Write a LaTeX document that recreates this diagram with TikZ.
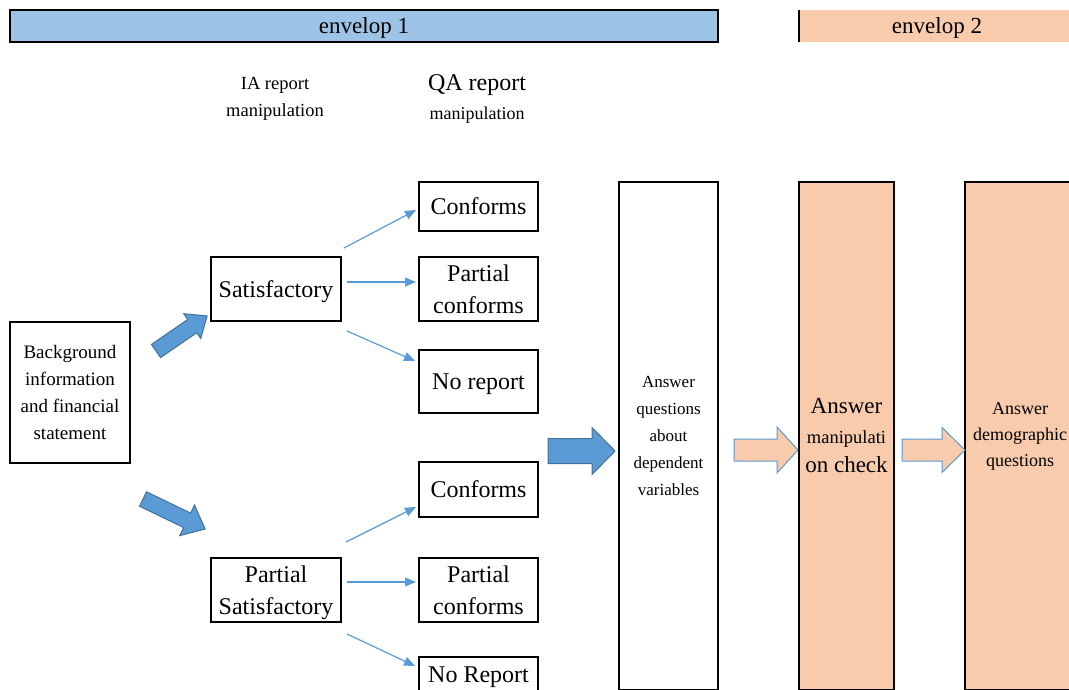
\documentclass[tikz,border=0pt]{standalone}
\usepackage{fontspec}
\setmainfont{Liberation Serif}
\usetikzlibrary{arrows.meta,calc}
\definecolor{barblue}{HTML}{9DC3E6}
\definecolor{peach}{HTML}{F8CBAD}
\definecolor{arrowblue}{HTML}{5B9BD5}
\definecolor{edgeblue}{HTML}{41719C}
\newcommand{\fsz}[2]{\fontsize{#1}{#2}\selectfont}
\newcommand{\barrow}[8]{\draw[#1,shift={(#2,#3)},rotate=#4] (0,-#8) -- (#5-#6,-#8) -- (#5-#6,-#7) -- (#5,0) -- (#5-#6,#7) -- (#5-#6,#8) -- (0,#8) -- cycle;}
\begin{document}
\begin{tikzpicture}[x=1pt,y=-1pt,
  box/.style={draw=black,line width=2pt,align=center,inner sep=0pt,text=black},
  small/.style={font=\fsz{24}{32},text depth=0pt},
  thin/.style={draw=arrowblue,line width=1.2pt,-{Triangle[length=11pt,width=9pt]}},
  bluefill/.style={fill=arrowblue,draw=edgeblue,line width=1pt},
  peachfill/.style={fill=peach,draw=arrowblue,line width=1pt},
  lbl/.style={align=center,inner sep=0pt,text=black}
]
\useasboundingbox (0,0) rectangle (1069,689);
\clip (0,0) rectangle (1069,689);
\fill[white] (0,0) rectangle (1069,689);

% envelope bars
\node[box,fill=barblue,minimum width=708pt,minimum height=32pt,font=\fsz{23}{28},text depth=0pt] (env1) at (364,26) {envelop 1};
\node[fill=peach,minimum width=276pt,minimum height=32pt,inner sep=0pt,font=\fsz{23}{28},text depth=0pt] (env2) at (937,26) {envelop 2};
\draw[line width=2pt] (env2.north west) -- (env2.south west);

% column headings
\node[lbl,font=\fsz{18.5}{27}] (iahead) at (275,99) {IA report\\manipulation};
\node[lbl,font=\fsz{24}{29}] (qahead) at (477,99) {QA report\\{\fsz{18}{29}manipulation}};

% left boxes
\node[box,minimum width=120pt,minimum height=141pt,font=\fsz{19}{27}] (bg) at (70,392.5) {Background\\information\\and financial\\statement};
\node[box,minimum width=130pt,minimum height=64pt,small] (sat) at (276,289) {Satisfactory};
\node[box,minimum width=130pt,minimum height=64pt,small] (psat) at (276,590) {Partial\\Satisfactory};

% QA boxes
\node[box,minimum width=119pt,minimum height=49pt,small] (c1) at (478.5,206.5) {Conforms};
\node[box,minimum width=119pt,minimum height=64pt,small] (pc1) at (478.5,289) {Partial\\conforms};
\node[box,minimum width=119pt,minimum height=63pt,small] (nr1) at (478.5,381.5) {No report};
\node[box,minimum width=119pt,minimum height=55pt,small] (c2) at (478.5,489.5) {Conforms};
\node[box,minimum width=119pt,minimum height=64pt,small] (pc2) at (478.5,590) {Partial\\conforms};
\node[box,minimum width=119pt,minimum height=36pt,small] (nr2) at (478.5,675) {No Report};

% tall columns
\node[box,minimum width=99pt,minimum height=508pt,font=\fsz{17}{27}] (dep) at (668.5,436) {Answer\\questions\\about\\dependent\\variables};
\node[box,fill=peach,minimum width=95pt,minimum height=508pt,font=\fsz{23}{29.5}] (man) at (846.5,436) {Answer\\{\fsz{18.5}{29.5}manipulati}\\on check};
\node[box,fill=peach,minimum width=110pt,minimum height=508pt,font=\fsz{18}{26}] (demo) at (1020,436) {Answer\\demographic\\questions};

% thin connectors
\draw[thin] ([xshift=2pt,yshift=8pt]sat.north east) -- ([xshift=-2pt,yshift=-3.5pt]c1.west);
\draw[thin] ([xshift=5pt,yshift=7pt]sat.east) -- ([xshift=-2pt,yshift=7pt]pc1.west);
\draw[thin] ([xshift=5pt,yshift=-9pt]sat.south east) -- ([xshift=-3pt,yshift=-12pt]nr1.north west);
\draw[thin] ([xshift=4pt,yshift=15pt]psat.north east) -- ([xshift=-2pt,yshift=11pt]c2.south west);
\draw[thin] ([xshift=5pt,yshift=8pt]psat.east) -- ([xshift=-2pt,yshift=8pt]pc2.west);
\draw[thin] ([xshift=5pt,yshift=-11pt]psat.south east) -- ([xshift=-3pt,yshift=9pt]nr2.west);

% block arrows
\barrow{bluefill}{156}{351}{34.5}{62}{18}{15}{8}
\barrow{bluefill}{143}{499}{-25.8}{69}{20}{17}{8}
\barrow{bluefill}{548}{451}{0}{67}{23}{23.5}{12.5}
\barrow{peachfill}{734}{450}{0}{64}{21}{23}{11}
\barrow{peachfill}{902}{450}{0}{63}{23}{22.5}{11}
\end{tikzpicture}
\end{document}
